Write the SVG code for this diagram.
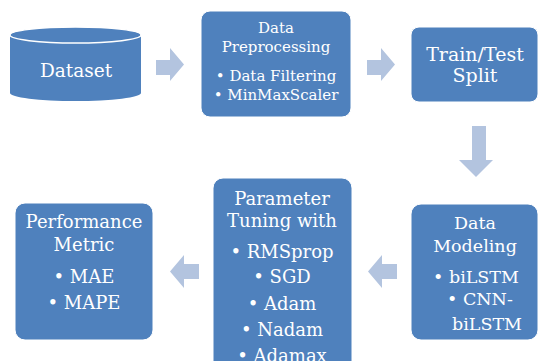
<svg xmlns="http://www.w3.org/2000/svg" width="539" height="361" viewBox="0 0 539 361">
  <style>
    .box { fill: #4f81bd; stroke: #ffffff; stroke-width: 1; }
    .arrow { fill: #b3c4df; }
    text { font-family: "DejaVu Serif", "Liberation Serif", serif; fill: #ffffff; text-anchor: middle; }
  </style>
  <rect width="539" height="361" fill="#ffffff"/>

  <g id="connectors">
    <path class="arrow" d="M156,60 H170 V48 L184,64.5 L170,81 V75 H156 Z"/>
    <path class="arrow" d="M367,60 H381 V48 L395,64.5 L381,81 V75 H367 Z"/>
    <path class="arrow" d="M472,126 H486 V160 H493 L476,177 L459,160 H472 Z"/>
    <path class="arrow" d="M397,264 H382 V255 L368,271.5 L382,288 V279 H397 Z"/>
    <path class="arrow" d="M199,264 H184 V255 L170,271.5 L184,288 V279 H199 Z"/>
  </g>

  <g id="dataset">
    <path d="M10,35 V93 A65.5,8 0 0 0 141,93 V35 Z" fill="#4f81bd"/>
    <ellipse cx="75.5" cy="35" rx="65.5" ry="8" fill="#4f81bd" stroke="#ffffff" stroke-width="1.5"/>
    <text x="76" y="77" font-size="18.5">Dataset</text>
  </g>

  <g id="preprocessing">
    <rect class="box" x="201" y="11" width="150" height="106" rx="9"/>
    <text x="276" y="33" font-size="15">Data</text>
    <text x="276" y="52" font-size="15">Preprocessing</text>
    <text x="276" y="81" font-size="15">• Data Filtering</text>
    <text x="276" y="100" font-size="15">• MinMaxScaler</text>
  </g>

  <g id="split">
    <rect class="box" x="411" y="27" width="127" height="75" rx="8"/>
    <text x="475" y="61" font-size="19">Train/Test</text>
    <text x="475" y="82" font-size="19">Split</text>
  </g>

  <g id="modeling">
    <rect class="box" x="411" y="204" width="127" height="136" rx="10"/>
    <text x="475" y="229" font-size="17.5">Data</text>
    <text x="475" y="252" font-size="17.5">Modeling</text>
    <text x="476" y="283" font-size="17.5">• biLSTM</text>
    <text x="447" y="305" font-size="17.5" style="text-anchor:start">• CNN-</text>
    <text x="452" y="330" font-size="17.5" style="text-anchor:start">biLSTM</text>
  </g>

  <g id="tuning">
    <rect class="box" x="213" y="178" width="139" height="195" rx="10"/>
    <text x="282" y="205" font-size="18">Parameter</text>
    <text x="282" y="227" font-size="18">Tuning with</text>
    <text x="282" y="258" font-size="18">• RMSprop</text>
    <text x="282" y="283" font-size="18">• SGD</text>
    <text x="282" y="310" font-size="18">• Adam</text>
    <text x="282" y="336" font-size="18">• Nadam</text>
    <text x="282" y="362" font-size="18">• Adamax</text>
  </g>

  <g id="metric">
    <rect class="box" x="15" y="203" width="138" height="137" rx="10"/>
    <text x="84" y="228" font-size="18">Performance</text>
    <text x="84" y="251" font-size="18">Metric</text>
    <text x="84" y="283" font-size="18">• MAE</text>
    <text x="84" y="309" font-size="18">• MAPE</text>
  </g>
</svg>
